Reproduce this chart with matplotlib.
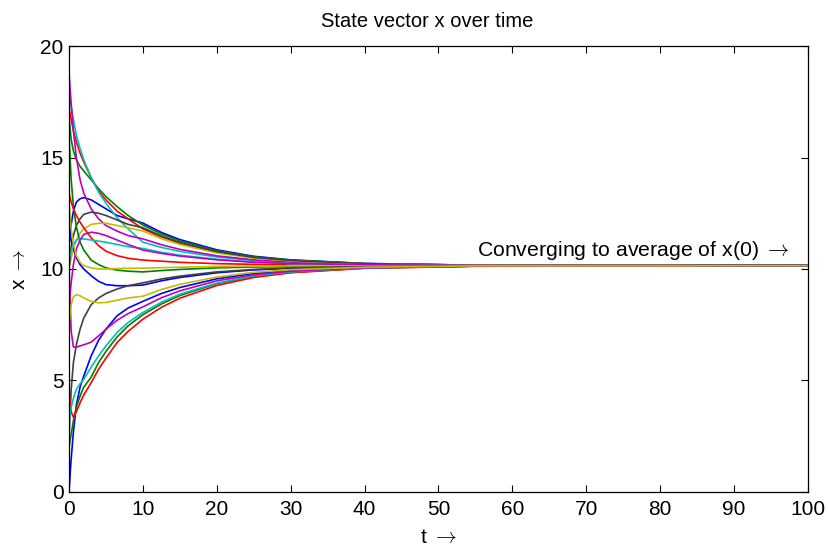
import numpy as np
import matplotlib
matplotlib.use("Agg")
from matplotlib import pyplot as plt

# sample times (dense near t=0, where the curves move fast)
t = [0, 0.3, 0.6, 1, 1.5, 2, 3, 4, 5, 6.5, 8, 10,
     12.5, 15, 20, 25, 30, 40, 55, 100]

# state trajectories, in plot order (b g r c m y k ...)
blue_a = [11.0, 12.0, 12.6, 13.0, 13.15, 13.2, 13.1, 12.9, 12.7, 12.4, 12.25, 12.06,
          11.64, 11.32, 10.86, 10.57, 10.41, 10.25, 10.17, 10.15]
green_top = [16.8, 15.8, 15.3, 14.9, 14.6, 14.4, 14.0, 13.6, 13.25, 12.8, 12.4, 11.97,
             11.57, 11.26, 10.82, 10.55, 10.40, 10.24, 10.17, 10.15]
red_top = [17.2, 16.7, 16.2, 15.7, 15.2, 14.8, 14.1, 13.5, 13.1, 12.6, 12.25, 11.8,
           11.44, 11.16, 10.76, 10.51, 10.37, 10.23, 10.17, 10.15]
cyan_top = [18.0, 17.3, 16.7, 16.0, 15.4, 14.9, 14.1, 13.45, 12.95, 12.3, 11.8, 11.2,
            10.97, 10.79, 10.54, 10.38, 10.29, 10.20, 10.16, 10.15]
magenta_top = [18.8, 17.4, 16.2, 15.0, 14.0, 13.4, 12.7, 12.25, 11.95, 11.7, 11.5, 11.35,
               11.09, 10.88, 10.59, 10.41, 10.31, 10.21, 10.16, 10.15]
yellow_hump = [10.0, 10.5, 10.9, 11.3, 11.6, 11.8, 12.0, 12.05, 12.05, 11.95, 11.85, 11.7,
               11.36, 11.10, 10.72, 10.49, 10.36, 10.23, 10.17, 10.15]
gray_hump = [10.0, 11.0, 11.5, 11.95, 12.25, 12.45, 12.55, 12.5, 12.4, 12.2, 12.0, 11.85,
             11.48, 11.19, 10.78, 10.52, 10.38, 10.24, 10.17, 10.15]
blue_b = [12.0, 11.3, 10.9, 10.5, 10.2, 10.0, 9.7, 9.45, 9.3, 9.25, 9.25, 9.28,
          9.47, 9.62, 9.83, 9.96, 10.03, 10.11, 10.14, 10.15]
green_mid = [16.0, 14.0, 12.8, 11.9, 11.2, 10.85, 10.4, 10.2, 10.05, 9.95, 9.9, 9.87,
             9.93, 9.98, 10.05, 10.09, 10.11, 10.14, 10.15, 10.15]
red_mid = [13.4, 13.0, 12.7, 12.4, 12.1, 11.85, 11.4, 11.05, 10.8, 10.6, 10.48, 10.4,
           10.35, 10.30, 10.24, 10.21, 10.18, 10.16, 10.15, 10.15]
cyan_mid = [10.4, 10.8, 11.1, 11.3, 11.35, 11.35, 11.3, 11.25, 11.2, 11.1, 11.0, 10.92,
            10.75, 10.62, 10.44, 10.32, 10.25, 10.19, 10.16, 10.15]
magenta_hump = [8.3, 9.4, 10.2, 10.9, 11.3, 11.55, 11.65, 11.6, 11.5, 11.3, 11.1, 10.85,
                10.70, 10.58, 10.41, 10.30, 10.25, 10.19, 10.16, 10.15]
yellow_mid = [13.0, 11.8, 11.1, 10.6, 10.3, 10.15, 10.05, 10.0, 10.0, 10.02, 10.03, 10.04,
              10.06, 10.08, 10.11, 10.13, 10.14, 10.14, 10.15, 10.15]
gray_low = [2.5, 4.6, 5.8, 6.6, 7.3, 7.8, 8.4, 8.7, 8.9, 9.1, 9.25, 9.38,
            9.55, 9.68, 9.87, 9.98, 10.05, 10.11, 10.14, 10.15]
blue_c = [0.0, 1.5, 2.7, 3.9, 4.7, 5.2, 6.1, 6.8, 7.3, 7.9, 8.25, 8.55,
          8.90, 9.17, 9.56, 9.80, 9.93, 10.07, 10.13, 10.15]
green_low = [2.0, 2.6, 3.2, 3.8, 4.3, 4.7, 5.15, 5.8, 6.3, 6.95, 7.45, 7.95,
             8.43, 8.81, 9.34, 9.67, 9.85, 10.04, 10.13, 10.15]
red_low = [4.6, 3.6, 3.35, 3.6, 4.0, 4.35, 4.9, 5.5, 6.0, 6.7, 7.2, 7.75,
           8.28, 8.69, 9.26, 9.62, 9.83, 10.03, 10.12, 10.15]
cyan_low = [3.2, 3.8, 4.2, 4.6, 4.85, 5.05, 5.6, 6.1, 6.55, 7.15, 7.6, 8.05,
            8.51, 8.87, 9.37, 9.69, 9.87, 10.05, 10.13, 10.15]
magenta_low = [10.0, 7.2, 6.5, 6.5, 6.55, 6.6, 6.72, 7.0, 7.3, 7.7, 8.0, 8.3,
               8.71, 9.02, 9.47, 9.74, 9.90, 10.06, 10.13, 10.15]
yellow_low = [7.5, 8.4, 8.75, 8.85, 8.8, 8.7, 8.55, 8.48, 8.5, 8.6, 8.7, 8.78,
              9.08, 9.31, 9.64, 9.85, 9.97, 10.08, 10.14, 10.15]

curves = [blue_a, green_top, red_top, cyan_top, magenta_top, yellow_hump, gray_hump,
          blue_b, green_mid, red_mid, cyan_mid, magenta_hump, yellow_mid, gray_low,
          blue_c, green_low, red_low, cyan_low, magenta_low, yellow_low]

# old matlab line colours
matlab_colors = [(0, 0, 1), (0, 0.5, 0), (1, 0, 0), (0, 0.75, 0.75),
                 (0.75, 0, 0.75), (0.75, 0.75, 0), (0.25, 0.25, 0.25)]

plt.rcParams['font.family'] = ['Liberation Sans', 'DejaVu Sans']
plt.rcParams['mathtext.fontset'] = 'cm'

fig = plt.figure(figsize=(8.29, 5.51), dpi=100)
ax = fig.add_axes([0.0832, 0.1071, 0.8915, 0.8094])

for i, c in enumerate(curves):
    ax.plot(t, c, color=matlab_colors[i % 7], lw=1.2)

ax.set_xlim(0, 100)
ax.set_ylim(0, 20)
ax.set_xticks(np.arange(0, 101, 10))
ax.set_yticks(np.arange(0, 21, 5))
ax.tick_params(direction='in', top=True, right=True, length=5, width=0.8,
               labelsize=15)
ax.tick_params(axis='x', pad=6)
ax.tick_params(axis='y', pad=4)
for s in ax.spines.values():
    s.set_linewidth(0.9)

arrow = r'$\rightarrow$'
ax.set_title('State vector x over time', fontsize=14.5, pad=14, x=0.485)
ax.set_xlabel('t ' + arrow, fontsize=15, labelpad=6)
ax.set_ylabel('x ' + arrow, fontsize=15, labelpad=8)
ax.text(55.2, 10.3, 'Converging to average of x(0) ' + arrow, fontsize=15.3,
        ha='left', va='bottom')

fig.savefig('out.png', dpi=100)
